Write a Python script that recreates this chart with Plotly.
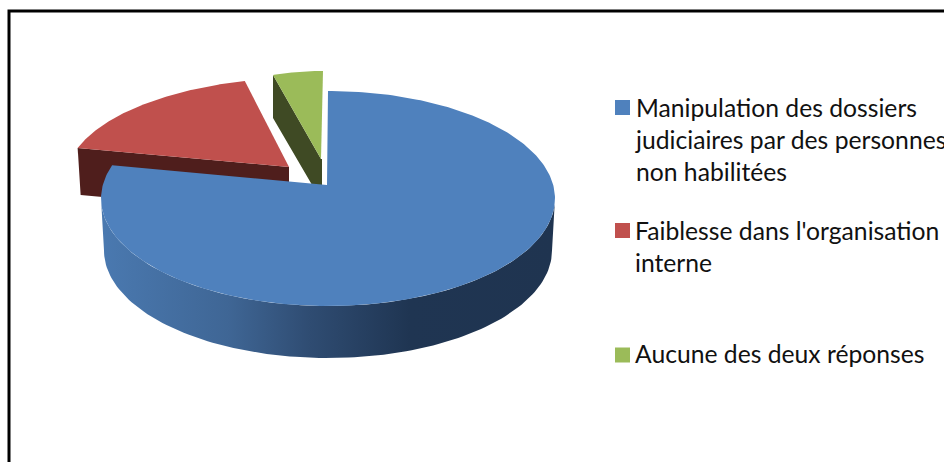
import numpy as np
import plotly.graph_objects as go

CATEGORIES = ["Manipulation des dossiers<br>judiciaires par des personnes<br>non habilitées",
              "Faiblesse dans l'organisation<br>interne",
              "Aucune des deux réponses"]
VALUES = [80, 16, 4]

TOP = ["#4F81BD", "#C0504D", "#9BBB59"]
DARK = ["#1F3552", "#4F1E1C", "#3F4A24"]
WALL_SCALE = [[0, "#4A79B0"], [0.28, "#3F6695"], [0.46, "#2F4C72"], [0.68, "#1F3552"], [1, "#1F3450"]]

# projected geometry of each slice: apex, ellipse centre, radii
GEOM = [
    dict(apex=(327, 185), c=(328, 198.5), r=(227, 107.5)),
    dict(apex=(289, 167), c=(304, 179.4), r=(238, 101.6)),
    dict(apex=(321, 159), c=(323, 198), r=(201, 127)),
]
DEPTH = [52, 47, 43]

LEGEND_TEXT_Y = [90.5, 214, 337]
LEGEND_MARK_Y = [107.5, 230.5, 355]


def arc(g, t0, t1, n=120):
    t = np.radians(np.linspace(t0, t1, n))
    return g["c"][0] + g["r"][0] * np.sin(t), g["c"][1] - g["r"][1] * np.cos(t)


frac = np.cumsum([0] + VALUES) / sum(VALUES) * 360
fig = go.Figure()


def poly(x, y, color, name):
    fig.add_trace(go.Scatter(x=list(x), y=list(y), fill="toself", mode="lines",
                             line=dict(width=0, color=color), fillcolor=color,
                             name=name, showlegend=False, hoverinfo="name"))


# exploded slices first (behind the large one), cut faces then top faces
for i in (1, 2):
    g = GEOM[i]
    ax, ay = g["apex"]
    d = DEPTH[i]
    x, y = arc(g, frac[i], frac[i + 1])
    ex, ey = x[0], y[0]
    if i == 1:
        poly([ex, ax, ax, ex + 3], [ey, ay, ay + d, ey + d], DARK[i], CATEGORIES[i])
    else:
        poly([ex, ax, ax + 1, ax + 1, ex], [ey, ay, ay, ay + d, ey + d], DARK[i], CATEGORIES[i])
    poly(np.r_[ax, x], np.r_[ay, y], TOP[i], CATEGORIES[i])

# rim of the main slice
g = GEOM[0]
low = dict(c=(g["c"][0], g["c"][1] + DEPTH[0]), r=(224, g["r"][1]))
bx, by = arc(low, 90, 270)
tx, ty = arc(g, 270, 90)
fig.add_trace(go.Scatter(x=list(bx) + list(tx), y=list(by) + list(ty), fill="toself", mode="lines",
                         line=dict(width=0), name=CATEGORIES[0], showlegend=False, hoverinfo="name",
                         fillgradient=dict(type="horizontal", colorscale=WALL_SCALE,
                                           start=g["c"][0] - 227, stop=g["c"][0] + 227)))
x, y = arc(g, frac[0], frac[1], 300)
poly(np.r_[g["apex"][0], x], np.r_[g["apex"][1], y], TOP[0], CATEGORIES[0])

# legend
fig.add_trace(go.Scatter(x=[622.5] * 3, y=LEGEND_MARK_Y, mode="markers",
                         marker=dict(symbol="square", size=15, color=TOP, line=dict(width=0)),
                         showlegend=False, hoverinfo="skip"))
annotations = [dict(x=636, y=yy, xref="x", yref="y", text=c, showarrow=False, xanchor="left",
                    yanchor="top", align="left", font=dict(family="Lato", size=24.7, color="#111111"),
                    xshift=-3)
               for c, yy in zip(CATEGORIES, LEGEND_TEXT_Y)]

fig.update_layout(
    width=944, height=462, margin=dict(l=0, r=0, t=0, b=0),
    paper_bgcolor="white", plot_bgcolor="white", showlegend=False,
    xaxis=dict(range=[0, 944], visible=False, fixedrange=True),
    yaxis=dict(range=[462, 0], visible=False, fixedrange=True),
    annotations=annotations,
    shapes=[dict(type="rect", xref="x", yref="y", x0=9, y0=11, x1=990, y1=520,
                 line=dict(color="black", width=3), layer="above")],
)
fig.write_html("out.html", config={"displayModeBar": False},
               post_script="document.body.style.margin='0';document.body.style.overflow='hidden';")
